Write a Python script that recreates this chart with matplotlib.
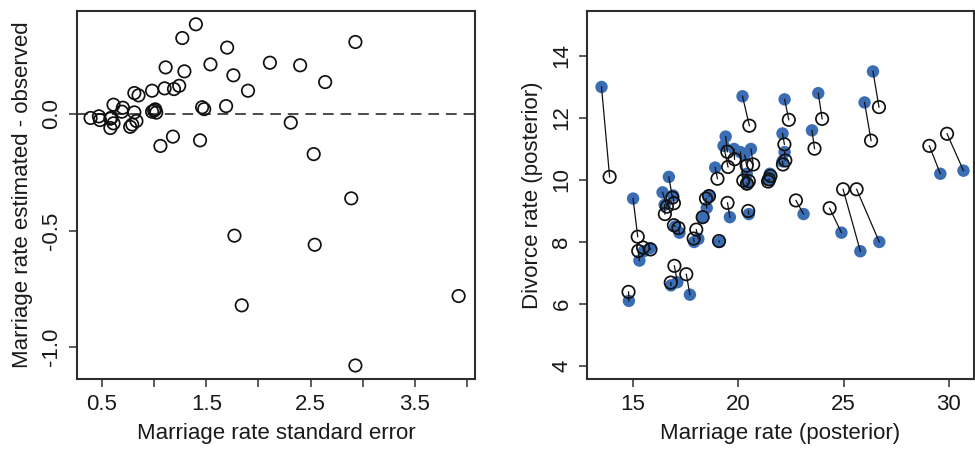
import numpy as np
import matplotlib
matplotlib.use("Agg")
import matplotlib.pyplot as pyp

states = ['AL', 'AK', 'AZ', 'AR', 'CA', 'CO', 'CT', 'DE', 'DC', 'FL',
          'GA', 'HI', 'ID', 'IL', 'IN', 'IA', 'KS', 'KY', 'LA', 'ME',
          'MD', 'MA', 'MI', 'MN', 'MS', 'MO', 'MT', 'NE', 'NH', 'NJ',
          'NM', 'NY', 'NC', 'ND', 'OH', 'OK', 'OR', 'PA', 'RI', 'SC',
          'SD', 'TN', 'TX', 'UT', 'VT', 'VA', 'WA', 'WV', 'WI', 'WY']

marriage = [20.2, 26.0, 20.3, 26.4, 19.1, 23.5, 17.1, 23.1, 17.7, 17.0,
            22.1, 24.9, 25.8, 17.9, 19.8, 21.5, 22.1, 22.2, 20.6, 13.5,
            18.3, 15.8, 16.5, 15.3, 19.3, 18.6, 18.5, 19.6, 16.7, 14.8,
            20.4, 16.8, 20.4, 26.7, 16.9, 23.8, 18.9, 15.5, 15.0, 18.1,
            20.1, 19.4, 21.5, 29.6, 16.4, 20.5, 21.4, 22.2, 17.2, 30.7]

marriage_se = [1.27, 2.93, 0.98, 1.70, 0.39, 1.24, 1.06, 2.89, 2.53, 0.58,
               0.81, 2.54, 1.84, 0.58, 1.01, 1.46, 1.48, 1.11, 1.19, 1.40,
               1.02, 0.70, 0.69, 0.77, 1.54, 0.81, 2.31, 1.44, 1.76, 0.59,
               1.90, 0.47, 0.98, 2.93, 0.61, 1.29, 1.10, 0.48, 2.11, 1.18,
               2.64, 0.85, 0.61, 1.77, 2.40, 0.83, 1.00, 1.69, 0.79, 3.92]

divorce = [12.7, 12.5, 10.8, 13.5, 8.0, 11.6, 6.7, 8.9, 6.3, 8.5,
           11.5, 8.3, 7.7, 8.0, 11.0, 10.2, 10.6, 12.6, 11.0, 13.0,
           8.8, 7.8, 9.2, 7.4, 11.1, 9.5, 9.1, 8.8, 10.1, 6.1,
           10.2, 6.6, 9.9, 8.0, 9.5, 12.8, 10.4, 7.7, 9.4, 8.1,
           10.9, 11.4, 10.0, 10.2, 9.6, 8.9, 10.0, 10.9, 8.3, 10.3]

# posterior mean marriage rate minus observed
marriage_diff = [0.326, 0.309, 0.10, 0.285, -0.017, 0.121, -0.137, -0.362, -0.172, -0.06,
                 0.09, -0.561, -0.821, -0.02, 0.02, 0.029, 0.021, 0.20, 0.107, 0.385,
                 0.006, 0.027, 0.01, -0.055, 0.213, 0.007, -0.037, -0.113, 0.166, -0.016,
                 0.10, -0.01, 0.01, -1.079, 0.04, 0.183, 0.11, -0.026, 0.22, -0.097,
                 0.137, 0.08, -0.04, -0.522, 0.209, -0.03, 0.015, 0.034, -0.045, -0.781]

# posterior mean divorce rate
divorce_est = [11.75, 11.27, 10.46, 12.35, 8.03, 11.01, 7.23, 9.34, 6.96, 8.54,
               11.15, 9.09, 9.70, 8.11, 10.67, 10.13, 10.50, 11.94, 10.50, 10.10,
               8.80, 7.76, 8.90, 7.71, 10.42, 9.48, 9.40, 9.26, 9.43, 6.39,
               9.96, 6.69, 9.88, 9.70, 9.25, 11.97, 10.04, 7.82, 8.17, 8.40,
               9.98, 10.91, 10.02, 11.10, 9.14, 9.00, 9.95, 10.63, 8.45, 11.49]

marriage = np.array(marriage)
marriage_diff = np.array(marriage_diff)
marriage_est = marriage + marriage_diff

pyp.rcParams['font.family'] = ['Liberation Sans', 'DejaVu Sans']
pyp.rcParams['font.size'] = 16

BOX = '#2e2e2e'
INK = '#1a1a1a'
BLUE = '#3b6db5'

fig = pyp.figure(figsize=(9.75, 4.54), dpi=100)
ax1 = fig.add_axes([77/975, 75/454, 398/975, 368/454])
ax2 = fig.add_axes([587/975, 75/454, 387/975, 368/454])

for ax in (ax1, ax2):
    for sp in ax.spines.values():
        sp.set_color(BOX)
        sp.set_linewidth(1.5)
    ax.tick_params(direction='out', length=5.5, width=1.1, color=BOX, pad=5,
                   labelsize=16, labelcolor=INK)

# left: marriage rate shrinkage vs standard error
ax1.axhline(0, color=INK, lw=1.1, ls=(0, (7, 4.5)))
ax1.scatter(marriage_se, marriage_diff, s=80, facecolors='none',
            edgecolors='#111111', linewidths=1.25, zorder=3)
ax1.set_xlim(0.26, 4.077)
ax1.set_ylim(-1.137, 0.442)
ax1.set_xticks(np.arange(0.5, 4.01, 0.5))
ax1.set_xticklabels(['0.5', '', '1.5', '', '2.5', '', '3.5', ''])
ax1.set_yticks([-1.0, -0.5, 0.0])
ax1.set_yticklabels(['-1.0', '-0.5', '0.0'], rotation=90, va='center')
ax1.set_xlabel('Marriage rate standard error', labelpad=6, color=INK)
ax1.set_ylabel('Marriage rate estimated - observed', labelpad=6, color=INK)

# right: observed (blue) vs posterior (open) with segments
for i in range(len(states)):
    ax2.plot([marriage[i], marriage_est[i]], [divorce[i], divorce_est[i]],
             color='#111111', lw=0.9, zorder=2)
ax2.scatter(marriage, divorce, s=80, color=BLUE, edgecolors='none', zorder=1)
ax2.scatter(marriage_est, divorce_est, s=80, facecolors='none',
            edgecolors='#111111', linewidths=1.25, zorder=3)
ax2.set_xlim(12.81, 31.2)
ax2.set_ylim(3.58, 15.45)
ax2.set_xticks([15, 20, 25, 30])
ax2.set_yticks([4, 6, 8, 10, 12, 14])
ax2.set_yticklabels(['4', '6', '8', '10', '12', '14'], rotation=90, va='center')
ax2.set_xlabel('Marriage rate (posterior)', labelpad=6, color=INK)
ax2.set_ylabel('Divorce rate (posterior)', labelpad=6, color=INK)

fig.savefig('out.png', dpi=100)
